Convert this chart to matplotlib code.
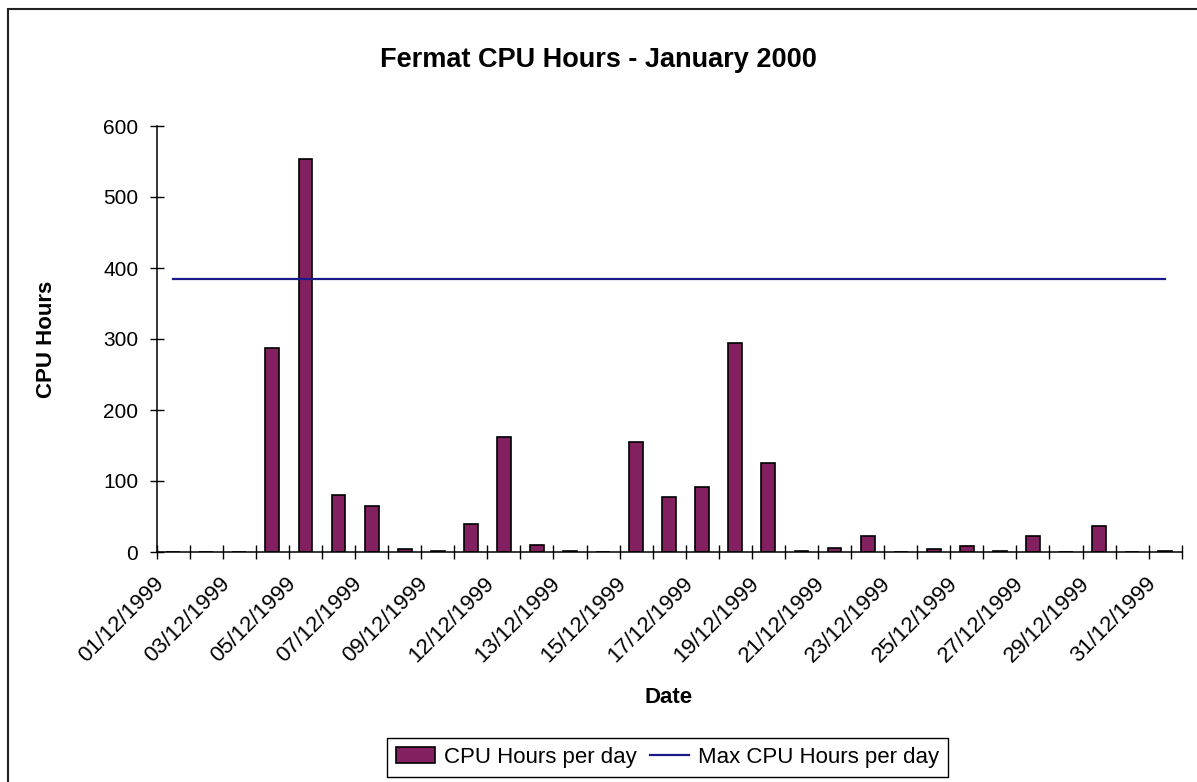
import numpy as np
import matplotlib
matplotlib.use("Agg")
import matplotlib.pyplot as plt
from matplotlib.patches import Rectangle
from matplotlib.transforms import ScaledTranslation

plt.rcParams['font.family'] = ['Liberation Sans', 'DejaVu Sans']

# data
days = ["01/12/1999", "02/12/1999", "03/12/1999", "04/12/1999", "05/12/1999",
        "06/12/1999", "07/12/1999", "08/12/1999", "09/12/1999", "10/12/1999",
        "12/12/1999", "12/12/1999", "13/12/1999", "14/12/1999", "15/12/1999",
        "16/12/1999", "17/12/1999", "18/12/1999", "19/12/1999", "20/12/1999",
        "21/12/1999", "22/12/1999", "23/12/1999", "24/12/1999", "25/12/1999",
        "26/12/1999", "27/12/1999", "28/12/1999", "29/12/1999", "30/12/1999",
        "31/12/1999"]
cpu_hours = [0, 0, 0, 288, 553, 80, 65, 4, 2, 39,
             162, 10, 2, 0, 155, 78, 92, 295, 126, 2,
             5, 22, 0, 4, 8, 2, 22, 0, 36, 0,
             2]
max_hours = [384, 384, 384, 384, 384, 384, 384, 384, 384, 384,
             384, 384, 384, 384, 384, 384, 384, 384, 384, 384,
             384, 384, 384, 384, 384, 384, 384, 384, 384, 384,
             384]

W, H = 1197, 782
BAR = '#83205F'
LINE = '#1a1a88'

fig = plt.figure(figsize=(W / 100, H / 100), dpi=100)
ax = fig.add_axes([156.7 / W, 1 - 552 / H, (1181.7 - 156.7) / W, (552 - 126) / H])

x = np.arange(len(days))
bars = ax.bar(x, cpu_hours, width=0.42, color=BAR, edgecolor='black',
              linewidth=1.2, zorder=2)
line, = ax.plot(x, max_hours, color=LINE, lw=1.6, zorder=3)

ax.set_xlim(-0.5, len(days) - 0.5)
ax.set_ylim(0, 600)
ax.set_yticks(range(0, 601, 100))

for s in ['top', 'right']:
    ax.spines[s].set_visible(False)
for s in ['left', 'bottom']:
    ax.spines[s].set_linewidth(1.1)
    ax.spines[s].set_color('black')

ax.set_xticks(x[::2])
ax.set_xticklabels(days[::2], fontsize=16)
ax.set_xticks(np.arange(-0.5, len(days), 1), minor=True)
ax.tick_params(axis='x', which='major', length=0, pad=0)
ax.tick_params(axis='x', which='minor', direction='inout', length=10, width=1)
ax.tick_params(axis='y', direction='inout', length=10.5, width=1, pad=8,
               labelsize=15)

offset = ScaledTranslation(-0.52, -0.68, fig.dpi_scale_trans)
for lab in ax.get_xticklabels():
    lab.set_rotation(45)
    lab.set_rotation_mode('anchor')
    lab.set_ha('center')
    lab.set_va('center')
    lab.set_transform(lab.get_transform() + offset)

fig.text(598 / W, 1 - 67 / H, "Fermat CPU Hours - January 2000",
         ha='center', va='baseline', fontsize=19.5, fontweight='bold')
fig.text(669 / W, 1 - 703 / H, "Date", ha='center', va='baseline',
         fontsize=16, fontweight='bold')
fig.text(46 / W, 1 - 339 / H, "CPU Hours", ha='center', va='center',
         rotation=90, fontsize=16, fontweight='bold')

leg = fig.legend([bars, line], ["CPU Hours per day", "Max CPU Hours per day"],
                 loc='center', bbox_to_anchor=(667.5 / W, 1 - 757.5 / H),
                 ncol=2, fancybox=False, framealpha=1, edgecolor='black',
                 fontsize=16, handlelength=1.75, handletextpad=0.4,
                 columnspacing=0.6, borderpad=0.4)
leg.get_frame().set_linewidth(1.0)

# chart area border (cut off at right and bottom in the original)
fig.add_artist(Rectangle((8 / W, -0.05), 1.2, 1 - 8.7 / H + 0.05,
                         transform=fig.transFigure, fill=False,
                         lw=1.5, ec='#222222', clip_on=False))

fig.savefig("out.png", dpi=100)
